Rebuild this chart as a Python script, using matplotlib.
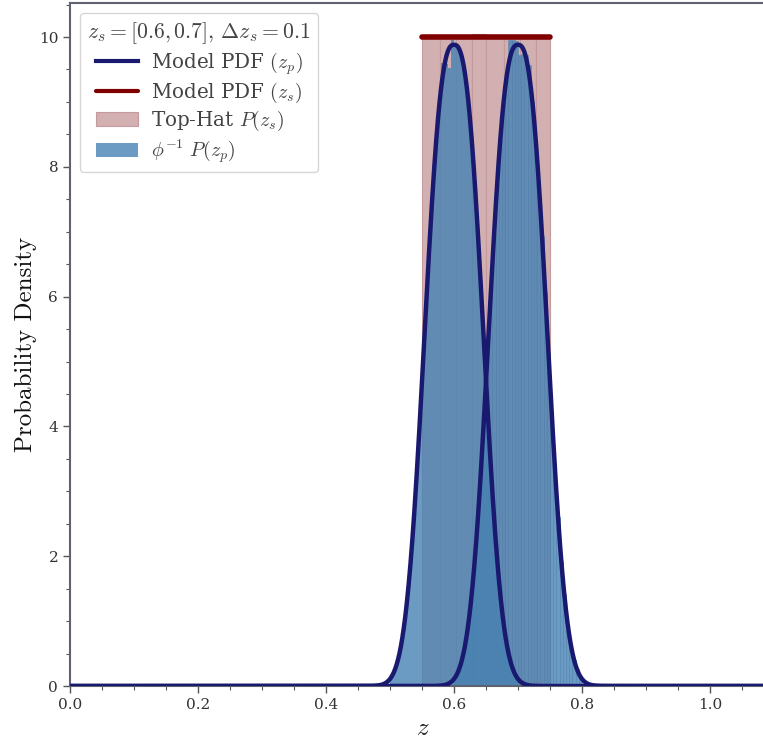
import numpy as np
import matplotlib
matplotlib.use("Agg")
import matplotlib.pyplot as plt
from matplotlib.ticker import MultipleLocator

plt.rcParams["font.family"] = ["DejaVu Serif"]
plt.rcParams["mathtext.fontset"] = "cm"

# ---- data -------------------------------------------------------------
z_s_centres = [0.6, 0.7]          # spectroscopic redshifts
dz_s = 0.1                        # top-hat width
# model PDF of z_p: peak height, scale and shape of a generalised normal
pdf_peak = 9.88
pdf_scale = 0.056
pdf_shape = 2.6

# top-hat P(z_s) histogram
tophat_edges = [0.55, 0.578, 0.603, 0.628, 0.65, 0.678, 0.703, 0.728, 0.75]
tophat_heights = [10.0, 10.0, 10.0, 10.05, 10.0, 10.0, 10.0, 10.0]

# phi^-1 P(z_p) histograms (bin width 0.005)
hist1_lo, hist1_hi = 0.50, 0.70
hist1_heights = [0.14, 0.25, 0.41, 0.64, 0.96, 1.40, 1.94, 2.60, 3.38, 4.22,
                 5.14, 6.06, 6.95, 7.75, 8.44, 9.00, 9.60, 9.58, 9.53, 9.95,
                 9.88, 9.83, 9.68, 9.41, 9.00, 8.44, 7.75, 6.95, 6.06, 5.14,
                 4.22, 3.38, 2.60, 1.94, 1.40, 0.96, 0.64, 0.41, 0.25, 0.14]
hist2_lo, hist2_hi = 0.60, 0.80
hist2_heights = [0.15, 0.24, 0.41, 0.63, 0.97, 1.39, 1.95, 2.59, 3.39, 4.21,
                 5.15, 6.05, 6.96, 7.74, 8.45, 8.98, 9.42, 9.95, 9.96, 9.94,
                 9.73, 9.74, 9.72, 9.57, 9.00, 8.43, 7.76, 6.94, 6.07, 5.13,
                 4.23, 3.37, 2.61, 1.93, 1.41, 0.95, 0.65, 0.40, 0.26, 0.13]

x_ticks = [0.0, 0.2, 0.4, 0.6, 0.8, 1.0]
y_ticks = [0, 2, 4, 6, 8, 10]

# ---- figure -----------------------------------------------------------
W, H = 763, 744
fig = plt.figure(figsize=(W / 100, H / 100), dpi=100)
ax = fig.add_axes([70 / W, 58 / H, (775 - 70) / W, (741 - 58) / H])

pink = "#d2b0b2"
blue = "steelblue"
navy = "#191970"
maroon = "#800000"

# top-hat
te = np.array(tophat_edges)
ax.bar(te[:-1], tophat_heights, width=np.diff(te), align="edge",
       color=pink, edgecolor="#c49a9c", linewidth=0.8, zorder=1,
       label=r"Top-Hat $P(z_s)$")

# photometric histograms
for k, (lo, hi, h) in enumerate([(hist1_lo, hist1_hi, hist1_heights),
                                 (hist2_lo, hist2_hi, hist2_heights)]):
    edges = np.linspace(lo, hi, len(h) + 1)
    ax.bar(edges[:-1], h, width=np.diff(edges), align="edge",
           color=blue, alpha=0.8, edgecolor="#4a7fae",
           linewidth=0.4 if k == 1 else 0.0, zorder=2,
           label=r"$\phi^{-1}\ P(z_p)$" if k == 0 else None)

# model PDFs
zz = np.linspace(0.0, 1.12, 1500)
for k, mu in enumerate(z_s_centres):
    pdf = pdf_peak * np.exp(-np.abs((zz - mu) / pdf_scale) ** pdf_shape)
    ax.plot(zz, pdf, color=navy, lw=3.2, zorder=4,
            label=r"Model PDF $(z_p)$" if k == 0 else None)

ax.plot([tophat_edges[0], tophat_edges[-1]], [1 / dz_s, 1 / dz_s],
        color=maroon, lw=4, solid_capstyle="round", zorder=3,
        label=r"Model PDF $(z_s)$")

# ---- axes styling -----------------------------------------------------
ax.set_xlim(0, (775 - 70) / 640)
ax.set_ylim(0, (686 - 3) / 64.9)
ax.set_xticks(x_ticks)
ax.set_yticks(y_ticks)
ax.xaxis.set_minor_locator(MultipleLocator(0.05))
ax.yaxis.set_minor_locator(MultipleLocator(0.5))
ax.tick_params(which="both", direction="out", colors="#555555",
               labelcolor="#333333", labelsize=11)
ax.tick_params(which="major", length=5, width=1)
ax.tick_params(which="minor", length=3, width=0.8)
for s in ax.spines.values():
    s.set_color("#5f6370")
    s.set_linewidth(1.5)

ax.set_xlabel(r"$z$", fontsize=18, color="#222222")
ax.set_ylabel("Probability Density", fontsize=18, family="cmr10",
              color="#111111", labelpad=1.5)

leg = ax.legend(loc="upper left", title=r"$z_s=[0.6, 0.7],\,\Delta z_s=0.1$",
                fontsize=14.3, title_fontsize=15.7, frameon=True, fancybox=True,
                borderaxespad=0.5, handlelength=2.1, handletextpad=0.65,
                labelspacing=0.2, borderpad=0.38)
leg.get_frame().set_edgecolor("#cccccc")
for t in leg.get_texts():
    t.set_color("#444444")
leg.get_title().set_color("#444444")
for line in leg.get_lines():
    line.set_linewidth(3)

fig.savefig("out.png", dpi=100)
